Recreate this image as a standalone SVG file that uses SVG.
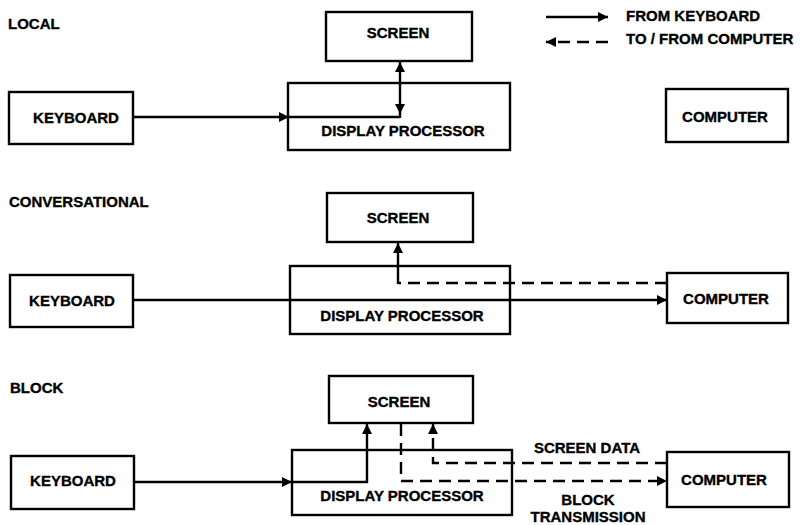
<svg xmlns="http://www.w3.org/2000/svg" width="800" height="525" viewBox="0 0 800 525">
<defs>
<marker id="ah" viewBox="0 0 10 10" refX="10" refY="5" markerUnits="userSpaceOnUse" markerWidth="12" markerHeight="10" orient="auto-start-reverse">
<path d="M0,0 L10,5 L0,10 z" fill="#000" stroke="none"/>
</marker>
</defs>
<style>
rect{fill:#fff;stroke:#000;stroke-width:2.4}
text{font-family:"Liberation Sans",Arial,sans-serif;font-weight:bold;font-size:15px;fill:#000;stroke:#000;stroke-width:0.35}
.c{text-anchor:middle}
.ln{fill:none;stroke:#000;stroke-width:2.4}
.d{stroke-dasharray:12 7}
</style>
<rect width="800" height="525" style="fill:#fff;stroke:none"/>
<g id="titles">
<text x="8" y="29">LOCAL</text>
<text x="9" y="207">CONVERSATIONAL</text>
<text x="10" y="393">BLOCK</text>
</g>
<g id="legend">
<line class="ln" x1="546" y1="17" x2="608" y2="17" marker-end="url(#ah)"/>
<line class="ln d" x1="608" y1="42" x2="546" y2="42" marker-end="url(#ah)"/>
<text x="626" y="21">FROM KEYBOARD</text>
<text x="626" y="44">TO / FROM COMPUTER</text>
</g>
<g id="local-keyboard"><rect x="9" y="92" width="124" height="52"/><text class="c" x="76" y="123">KEYBOARD</text></g>
<g id="local-display"><rect x="288" y="83" width="222" height="67"/><text class="c" x="403" y="136">DISPLAY PROCESSOR</text></g>
<g id="local-screen"><rect x="326" y="12" width="146" height="49"/><text class="c" x="398" y="38">SCREEN</text></g>
<g id="local-computer"><rect x="666" y="89" width="122" height="53"/><text class="c" x="725" y="122">COMPUTER</text></g>
<g id="conv-keyboard"><rect x="10" y="275" width="123" height="52"/><text class="c" x="72" y="306">KEYBOARD</text></g>
<g id="conv-display"><rect x="290" y="266" width="220" height="68"/><text class="c" x="402" y="321">DISPLAY PROCESSOR</text></g>
<g id="conv-screen"><rect x="327" y="193" width="146" height="49"/><text class="c" x="398" y="223">SCREEN</text></g>
<g id="conv-computer"><rect x="667" y="273" width="121" height="50"/><text class="c" x="726" y="304">COMPUTER</text></g>
<g id="block-keyboard"><rect x="11" y="456" width="123" height="53"/><text class="c" x="73" y="486">KEYBOARD</text></g>
<g id="block-display"><rect x="292" y="450" width="220" height="65"/><text class="c" x="402" y="501">DISPLAY PROCESSOR</text></g>
<g id="block-screen"><rect x="329" y="376" width="144" height="47"/><text class="c" x="399" y="407">SCREEN</text></g>
<g id="block-computer"><rect x="667" y="452" width="122" height="55"/><text class="c" x="724" y="485">COMPUTER</text></g>
<g id="connectors">
<path class="ln" d="M133,117 H289" marker-end="url(#ah)"/>
<path class="ln" d="M288,117 H400"/>
<line class="ln" x1="400" y1="62" x2="400" y2="114" marker-start="url(#ah)" marker-end="url(#ah)"/>
<line class="ln" x1="400" y1="113" x2="400" y2="118"/>
<path class="ln" d="M133,300 H667" marker-end="url(#ah)"/>
<path class="ln d" d="M667,283 H398"/>
<path class="ln" d="M398,284 V243" marker-end="url(#ah)"/>
<path class="ln" d="M134,482 H292" marker-end="url(#ah)"/>
<path class="ln" d="M291,482 H367 V424" marker-end="url(#ah)"/>
<path class="ln d" d="M401,424 V481 H667" marker-end="url(#ah)"/>
<path class="ln d" d="M667,463 H433 V424" marker-end="url(#ah)"/>
<text class="c" x="587" y="453">SCREEN DATA</text>
<text class="c" x="588" y="505">BLOCK</text>
<text class="c" x="588" y="522">TRANSMISSION</text>
</g>
</svg>
